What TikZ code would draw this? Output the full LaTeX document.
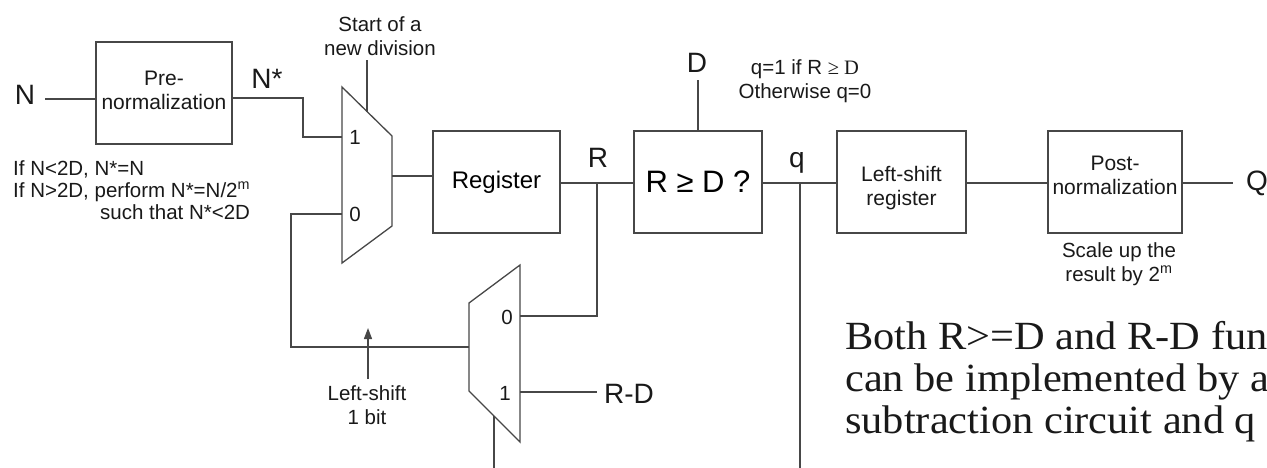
\documentclass[tikz,border=0pt]{standalone}
\usepackage{fontspec}
\setmainfont{Liberation Sans}
\newfontfamily\serifrm{Liberation Serif}
\newfontfamily\serifwide{Liberation Serif}[FakeStretch=1.06]
\usetikzlibrary{arrows.meta}
\newcommand{\fs}[2]{\fontsize{#1pt}{#2pt}\selectfont}
\tikzset{
  wire/.style={draw=black!72, line width=1.3pt},
  blk/.style={draw=black!72, line width=1.3pt, rectangle, inner sep=0pt},
  lbl/.style={inner sep=0pt, text=black!90},
  sm/.style={lbl, font=\fs{20.5}{24}, align=center},
  boxtxt/.style={lbl, font=\fs{21}{24}, align=center},
  big/.style={lbl, font=\fs{28}{32}},
}
\begin{document}
\begin{tikzpicture}[x=1pt,y=-1pt]
\useasboundingbox (0,0) rectangle (1267,467);
% ---------- blocks ----------
\node[blk, minimum width=136pt, minimum height=102pt] (pre) at (164,93) {};
\node[boxtxt] (pretxt) at (164,90) {Pre-\\normalization};
\node[blk, minimum width=127pt, minimum height=102pt, font=\fs{24}{28}] (reg) at (496.5,182) {Register};
\node[blk, minimum width=128pt, minimum height=102pt, font=\fs{31}{34}] (cmp) at (698,182) {R ≥ D ?};
\node[blk, minimum width=129pt, minimum height=102pt] (lsr) at (901.5,182) {};
\node[boxtxt] (lsrtxt) at (901.5,188) {Left-shift\\register};
\node[blk, minimum width=134pt, minimum height=102pt] (post) at (1115,182) {};
\node[boxtxt] (posttxt) at (1115,175) {Post-\\normalization};
% ---------- mux 1 ----------
\coordinate (m1a) at (342,87);
\coordinate (m1b) at (392,136);
\coordinate (m1c) at (392,226);
\coordinate (m1d) at (342,263);
\draw[wire] (m1a) -- (m1b) -- (m1c) -- (m1d) -- cycle;
\coordinate (m1in1) at (342,137);
\coordinate (m1in0) at (342,214);
\coordinate (m1out) at (392,176);
\coordinate (m1sel) at (367,111.5);
\coordinate (m1seltop) at (367,60);
\node[sm] (m1l1) at (355,137) {1};
\node[sm] (m1l0) at (355,214) {0};
% ---------- mux 2 ----------
\coordinate (m2a) at (469,303);
\coordinate (m2b) at (520,265);
\coordinate (m2c) at (520,442);
\coordinate (m2d) at (469,391);
\draw[wire] (m2a) -- (m2b) -- (m2c) -- (m2d) -- cycle;
\coordinate (m2in0) at (520,316);
\coordinate (m2in1) at (520,392);
\coordinate (m2out) at (469,347);
\coordinate (m2sel) at (494,416);
\coordinate (m2selbot) at (494,470);
\node[sm] (m2l0) at (507,317) {0};
\node[sm] (m2l1) at (505,393) {1};
% ---------- input side ----------
\node[big, anchor=base] (N) at (25,104) {N};
\coordinate (nin) at (45,99);
\draw[wire] (nin) -- (nin -| pre.west);
\coordinate (nstar) at (303,98);
\draw[wire] (pre.east |- nstar) -- (nstar) |- (m1in1);
\node[big, anchor=base] (Nstar) at (267,88) {N*};
\draw[wire] (m1seltop) -- (m1sel);
\node[sm] (start) at (380,36) {Start of a\\new division};
\node[sm, anchor=base west] (cond1) at (13,175) {If N<2D, N*=N};
\node[sm, anchor=base west] (cond2) at (13,197) {If N>2D, perform N*=N/2\textsuperscript{m}};
\node[sm, anchor=base west] (cond3) at (100,219) {such that N*<2D};
% ---------- main path ----------
\draw[wire] (m1out) -- (m1out -| reg.west);
\coordinate (rj) at (597,183);
\draw[wire] (reg.east |- rj) -- (rj) -- (rj -| cmp.west);
\node[big, anchor=base] (R) at (598,167) {R};
\coordinate (dtop) at (698,80);
\draw[wire] (dtop) -- (cmp.north);
\node[big, anchor=base] (D) at (697,72) {D};
\node[sm] (qnote) at (805,81) {q=1 if R {\serifrm ≥ D}\\Otherwise q=0};
\coordinate (qj) at (800,183);
\draw[wire] (cmp.east |- qj) -- (qj) -- (qj -| lsr.west);
\coordinate (qbot) at (800,470);
\draw[wire] (qj) -- (qbot);
\node[big, anchor=base] (q) at (797,167) {q};
\draw[wire] (lsr.east |- qj) -- (post.west |- qj);
\coordinate (qout) at (1233,183);
\draw[wire] (post.east |- qout) -- (qout);
\node[big, anchor=base west] (Q) at (1246,190) {Q};
\node[sm] (scale) at (1119,264) {Scale up the\\result by 2\textsuperscript{m}};
% ---------- feedback ----------
\draw[wire] (m2in0) -| (rj);
\coordinate (rd) at (597,392);
\draw[wire] (m2in1) -- (rd);
\node[big, anchor=base west] (RD) at (604,403) {R-D};
\coordinate (fb) at (291,347);
\draw[wire] (m2out) -- (fb) |- (m1in0);
\draw[wire] (m2sel) -- (m2selbot);
\coordinate (ab) at (368,379);
\coordinate (at) at (368,328);
\draw[wire, -{Triangle[width=8pt,length=11pt]}] (ab) -- (at);
\node[sm] (ls) at (367,405) {Left-shift\\1 bit};
% ---------- note ----------
\node[lbl, anchor=base west, font=\serifwide\fs{40}{42}] (note) at (845,349)
  {\begin{tabular}[t]{@{}l@{}}Both R>=D and R-D fun\\can be implemented by a\\subtraction circuit and q\end{tabular}};
\end{tikzpicture}
\end{document}
